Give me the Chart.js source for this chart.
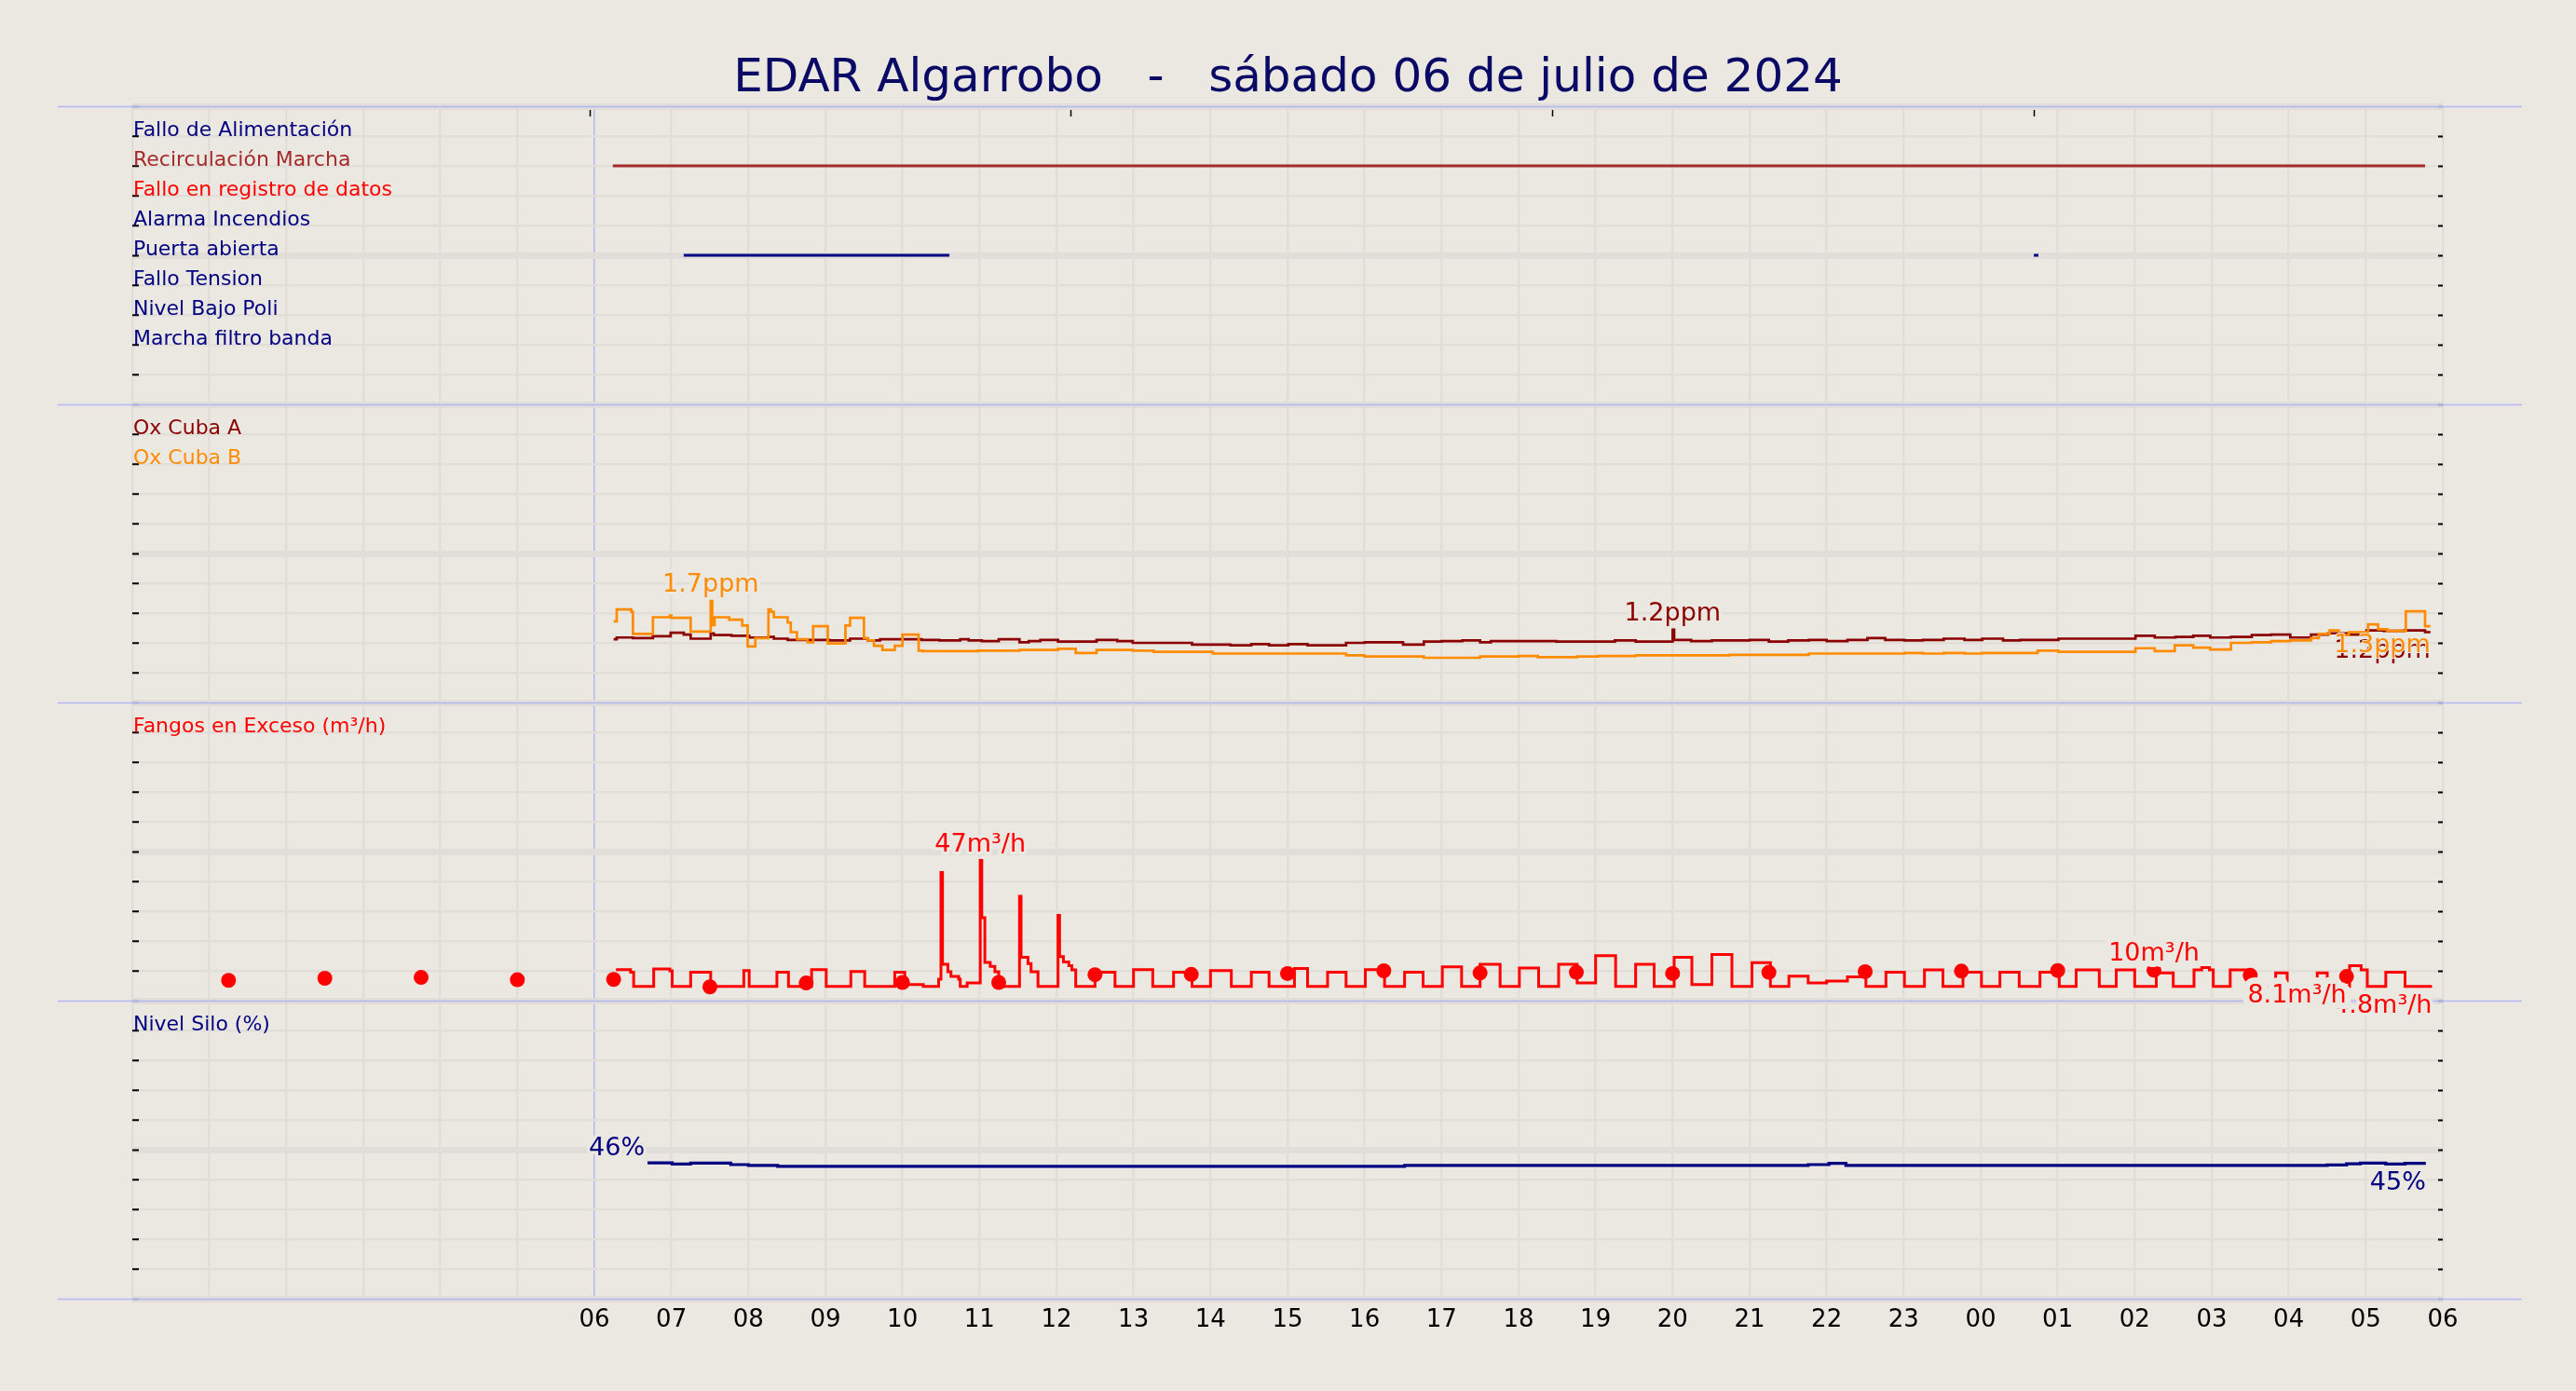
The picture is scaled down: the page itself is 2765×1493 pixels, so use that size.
<!DOCTYPE html>
<html>
<head>
<meta charset="utf-8">
<script src="https://cdn.jsdelivr.net/npm/chart.js@4.4.1/dist/chart.umd.min.js"></script>
<style>
html,body{margin:0;padding:0;background:#ebe7e1;overflow:hidden;}
canvas{display:block;}
</style>
</head>
<body>
<canvas id="chart" width="2765" height="1493"></canvas>
<script>
// ---------------- data ----------------
const chartTitle = 'EDAR Algarrobo   -   sábado 06 de julio de 2024';
const hourLabels = ['06','07','08','09','10','11','12','13','14','15','16','17','18','19','20','21','22','23','00','01','02','03','04','05','06'];
const topAxisMarks = [5.94, 12.19, 18.44, 24.69];

const alarmNames = ['Fallo de Alimentación','Recirculación Marcha','Fallo en registro de datos','Alarma Incendios','Puerta abierta','Fallo Tension','Nivel Bajo Poli','Marcha filtro banda'];
const recirculacionMarcha = [[6.24, 29.77]];
const puertaAbierta = [[7.16, 10.61], [24.69, 24.75]];

const oxNames = ['Ox Cuba A', 'Ox Cuba B'];
const oxCubaA = [[6.25,1.06],[6.29,1.09],[6.50,1.08],[6.76,1.11],[6.99,1.17],[7.16,1.14],[7.25,1.07],[7.51,1.16],[7.55,1.13],[7.78,1.12],[8.01,1.09],[8.26,1.10],[8.33,1.07],[8.51,1.05],[9.05,1.04],[9.32,1.07],[9.55,1.04],[9.71,1.06],[10.25,1.05],[10.48,1.04],[10.75,1.06],[10.86,1.04],[11.03,1.03],[11.25,1.06],[11.52,1.01],[11.64,1.03],[11.79,1.05],[12.02,1.02],[12.52,1.05],[12.79,1.03],[12.99,1.00],[13.26,1.00],[13.76,0.97],[14.26,0.96],[14.53,0.98],[14.76,0.96],[15.01,0.98],[15.26,0.96],[15.76,1.00],[16.00,1.01],[16.50,0.97],[16.77,1.02],[17.00,1.03],[17.27,1.04],[17.50,1.01],[17.64,1.03],[18.49,1.02],[19.25,1.04],[19.52,1.02],[20.00,1.22],[20.02,1.05],[20.24,1.03],[20.51,1.04],[21.00,1.05],[21.25,1.02],[21.50,1.04],[21.77,1.05],[22.00,1.03],[22.27,1.05],[22.53,1.08],[22.76,1.05],[23.01,1.04],[23.25,1.05],[23.52,1.07],[23.79,1.05],[24.02,1.07],[24.29,1.04],[24.51,1.05],[25.01,1.07],[26.01,1.12],[26.26,1.09],[26.53,1.10],[26.76,1.12],[26.98,1.09],[27.25,1.10],[27.52,1.13],[27.77,1.14],[28.02,1.09],[28.29,1.14],[28.51,1.16],[28.78,1.14],[29.01,1.21],[29.23,1.20],[29.50,1.21],[29.77,1.18],[29.84,1.18]];
const oxCubaB = [[6.25,1.36],[6.29,1.56],[6.48,1.52],[6.50,1.15],[6.76,1.43],[6.98,1.46],[7.00,1.42],[7.25,1.19],[7.51,1.70],[7.53,1.30],[7.56,1.43],[7.75,1.39],[7.92,1.29],[7.99,0.94],[8.09,1.08],[8.26,1.56],[8.29,1.52],[8.33,1.43],[8.51,1.34],[8.55,1.18],[8.63,1.06],[8.77,1.01],[8.84,1.28],[9.03,0.99],[9.26,1.29],[9.32,1.42],[9.50,1.08],[9.55,1.04],[9.63,0.95],[9.74,0.88],[9.90,0.95],[10.00,1.14],[10.21,0.87],[10.26,0.86],[10.98,0.87],[11.52,0.88],[12.02,0.90],[12.25,0.83],[12.52,0.88],[12.99,0.87],[13.26,0.85],[13.76,0.85],[14.03,0.82],[14.26,0.82],[15.76,0.79],[16.00,0.77],[16.77,0.75],[17.50,0.77],[18.00,0.78],[18.25,0.76],[18.76,0.77],[19.03,0.78],[19.52,0.79],[20.74,0.80],[21.77,0.82],[23.01,0.83],[23.25,0.82],[23.52,0.83],[23.79,0.82],[24.02,0.83],[24.74,0.87],[25.01,0.85],[26.01,0.91],[26.26,0.86],[26.52,0.96],[26.76,0.92],[26.98,0.89],[27.25,1.00],[27.52,1.01],[27.77,1.03],[28.02,1.04],[28.29,1.08],[28.39,1.15],[28.53,1.21],[28.65,1.13],[28.78,1.18],[29.03,1.31],[29.16,1.23],[29.28,1.20],[29.52,1.53],[29.77,1.28],[29.84,1.28]];

const fangosName = 'Fangos en Exceso (m³/h)';
const fangosExceso = [[6.28,10.4],[6.47,9.5],[6.51,4.8],[6.77,10.6],[6.98,10.0],[7.01,4.8],[7.25,9.5],[7.51,4.8],[7.94,10.1],[8.01,4.8],[8.37,9.5],[8.52,4.8],[8.82,10.4],[9.01,4.8],[9.33,9.8],[9.51,4.8],[9.90,9.5],[10.03,5.4],[10.27,4.8],[10.47,7.2],[10.50,43],[10.52,12.2],[10.59,9.7],[10.63,8.1],[10.73,7.2],[10.75,4.8],[10.84,5.9],[11.01,47],[11.03,27.8],[11.07,12.8],[11.14,11.5],[11.20,9.7],[11.25,4.8],[11.52,35],[11.54,14.5],[11.63,12.4],[11.67,9.7],[11.76,4.8],[12.02,28.6],[12.04,14.8],[12.09,13.0],[12.16,11.7],[12.20,10.3],[12.25,4.8],[12.50,9.5],[12.76,4.8],[13.00,10.4],[13.25,4.8],[13.52,9.5],[13.76,4.8],[14.00,10.1],[14.27,4.8],[14.53,9.5],[14.76,4.8],[15.09,10.8],[15.26,4.8],[15.52,9.5],[15.76,4.8],[16.01,10.4],[16.26,4.8],[16.52,9.5],[16.76,4.8],[17.01,11.3],[17.26,4.8],[17.50,12.2],[17.76,4.8],[18.01,10.9],[18.26,4.8],[18.52,12.2],[18.76,5.9],[19.00,15.1],[19.26,4.8],[19.52,12.2],[19.76,4.8],[20.02,14.5],[20.25,5.4],[20.51,15.5],[20.77,4.8],[21.03,12.7],[21.27,4.8],[21.51,8.2],[21.76,5.9],[22.00,6.6],[22.27,8.0],[22.51,4.8],[22.77,9.5],[23.01,4.8],[23.27,10.3],[23.51,4.8],[23.77,9.5],[24.01,4.8],[24.25,9.5],[24.50,4.8],[24.77,9.5],[25.02,4.8],[25.24,10.3],[25.54,4.8],[25.76,10.3],[26.00,4.8],[26.28,9.3],[26.50,4.8],[26.77,10.3],[26.87,11.1],[26.97,10.3],[27.02,4.8],[27.24,10.3],[27.46,4.8],[27.83,9.3],[27.98,4.8],[28.37,9.3],[28.50,4.8],[28.79,11.7],[28.94,10.3],[29.02,4.8],[29.26,9.5],[29.51,4.8],[29.86,4.8]];
const fangosPuntos = [[1.25,6.8],[2.5,7.5],[3.75,7.8],[5.0,7.0],[6.25,7.1],[7.5,4.6],[8.75,5.9],[10.0,6.1],[11.25,6.1],[12.5,8.7],[13.75,8.8],[15.0,9.1],[16.25,10.0],[17.5,9.3],[18.75,9.5],[20.0,9.1],[21.25,9.5],[22.5,9.7],[23.75,9.9],[25.0,10.1],[26.25,10.2],[27.5,8.5],[28.75,8.1]];

const siloName = 'Nivel Silo (%)';
const nivelSilo = [[6.69,45.6],[7.01,45.2],[7.25,45.5],[7.77,45.0],[8.00,44.7],[8.38,44.4],[16.52,44.7],[21.76,45.0],[22.03,45.4],[22.25,44.7],[28.50,44.9],[28.75,45.3],[28.93,45.5],[29.26,45.2],[29.51,45.4],[29.78,45.4]];

// ---------------- styles ----------------
const FONT = 'DejaVu Sans';
const BG = '#ebe7e1';
const GRID = '#e1ddd9';
const RULE = '#b2b6f2';
const NAVY = '#000080', BROWN = '#a52a2a', RED = '#ff0000', DARKRED = '#8b0000', ORANGE = '#ff8c00';
const TITLE_COLOR = '#0a0a66';
const alarmColors = [NAVY, BROWN, RED, NAVY, NAVY, NAVY, NAVY, NAVY];
const alarmIntervals = [[], recirculacionMarcha, [], [], puertaAbierta, [], [], []];

const pts = a => a.map(([x, y]) => ({x, y}));
function intervalPoints(iv, level) {
  const out = [];
  iv.forEach(([s, e]) => { out.push({x: s, y: level}, {x: e, y: level}, {x: e, y: null}); });
  return out;
}

const datasets = [];
alarmIntervals.forEach((iv, i) => {
  if (iv.length) datasets.push({data: intervalPoints(iv, 9 - i), yAxisID: 'y1', borderColor: alarmColors[i], borderWidth: 3, pointRadius: 0, spanGaps: false, borderCapStyle: 'butt'});
});
datasets.push({data: pts(oxCubaB), yAxisID: 'y2', borderColor: ORANGE, borderWidth: 2.7, stepped: true, pointRadius: 0, order: 0});
datasets.push({data: pts(oxCubaA), yAxisID: 'y2', borderColor: DARKRED, borderWidth: 2.7, stepped: true, pointRadius: 0, order: 1});
datasets.push({data: pts(fangosPuntos), yAxisID: 'y3', showLine: false, pointRadius: 8, pointBackgroundColor: RED, pointBorderWidth: 0, borderColor: RED, order: 0});
datasets.push({data: pts(fangosExceso), yAxisID: 'y3', borderColor: RED, borderWidth: 3, stepped: true, pointRadius: 0, order: 1});
datasets.push({data: pts(nivelSilo), yAxisID: 'y4', borderColor: NAVY, borderWidth: 3.2, stepped: true, pointRadius: 0});

const panelTexts = [
  {axis: 'y1', names: alarmNames, colors: alarmColors},
  {axis: 'y2', names: oxNames, colors: [DARKRED, ORANGE]},
  {axis: 'y3', names: [fangosName], colors: [RED]},
  {axis: 'y4', names: [siloName], colors: [NAVY]},
];
const annotated = [
  {data: oxCubaA, axis: 'y2', unit: 'ppm', color: DARKRED, endHalo: 2},
  {data: oxCubaB, axis: 'y2', unit: 'ppm', color: ORANGE, endHalo: 2},
  {data: fangosExceso, axis: 'y3', unit: 'm³/h', color: RED},
  {data: fangosPuntos, axis: 'y3', unit: 'm³/h', color: RED, halo: 14, endHalo: 14},
  {data: nivelSilo, axis: 'y4', unit: '%', color: NAVY, maxAlign: 'right'},
];

function drawLabel(ctx, text, x, baseline, align, color, halo) {
  ctx.font = '27px "' + FONT + '"';
  const w = ctx.measureText(text).width;
  const left = align === 'center' ? x - w / 2 : (align === 'right' ? x - w : x);
  ctx.textAlign = 'left';
  ctx.textBaseline = 'alphabetic';
  ctx.lineJoin = 'round';
  ctx.strokeStyle = BG;
  ctx.lineWidth = halo || 7;
  ctx.strokeText(text, left, baseline);
  ctx.fillStyle = color;
  ctx.fillText(text, left, baseline);
}

const decoPlugin = {
  id: 'deco',
  beforeDatasetsDraw(chart) {
    const {ctx, chartArea: ca} = chart;
    ctx.save();
    ctx.strokeStyle = RULE;
    ctx.lineWidth = 1.5;
    const ys = [];
    ['y1', 'y2', 'y3', 'y4'].forEach(id => { const s = chart.scales[id]; ys.push(s.top, s.bottom); });
    [...new Set(ys.map(v => Math.round(v)))].forEach(y => {
      ctx.beginPath(); ctx.moveTo(ca.left - 80, y + 0.5); ctx.lineTo(ca.right + 85, y + 0.5); ctx.stroke();
    });
    ctx.font = '22px "' + FONT + '"';
    ctx.textAlign = 'left';
    ctx.textBaseline = 'alphabetic';
    panelTexts.forEach(p => {
      const s = chart.scales[p.axis];
      p.names.forEach((n, i) => {
        const v = s.min + (s.max - s.min) * (9 - i) / 10;
        ctx.fillStyle = p.colors[i];
        ctx.fillText(n, ca.left + 1, s.getPixelForValue(v));
      });
    });
    ctx.restore();
  },
  afterDatasetsDraw(chart) {
    const {ctx} = chart;
    const xs = chart.scales.x;
    ctx.save();
    annotated.forEach(a => {
      const ys = chart.scales[a.axis];
      let mi = 0;
      a.data.forEach((p, i) => { if (p[1] > a.data[mi][1]) mi = i; });
      const mx = a.data[mi];
      const px = xs.getPixelForValue(mx[0]), py = ys.getPixelForValue(mx[1]);
      if (a.maxAlign === 'right') drawLabel(ctx, mx[1].toPrecision(2) + a.unit, px - 3, py - 8, 'right', a.color, a.halo);
      else drawLabel(ctx, mx[1].toPrecision(2) + a.unit, px, py - 10, 'center', a.color, a.halo);
    });
    annotated.forEach(a => {
      const ys = chart.scales[a.axis];
      const last = a.data[a.data.length - 1];
      drawLabel(ctx, last[1].toPrecision(2) + a.unit, xs.getPixelForValue(last[0]), ys.getPixelForValue(last[1]) + 28, 'right', a.color, a.endHalo);
    });
    ctx.restore();
  }
};

const leftY = (min, max, step, weight) => ({
  type: 'linear', position: 'left', stack: 'L', stackWeight: 1, weight, min, max,
  ticks: {display: false, stepSize: step},
  grid: {color: GRID, lineWidth: c => (c.index % 5 === 0 ? 7 : 2.5), tickLength: -7, tickWidth: 2,
         tickColor: c => (c.index % 10 === 0 ? '#9a9ab8' : '#000000')},
  border: {display: false},
  afterFit: s => { s.width = 142; }
});
const rightY = (min, max, step, weight) => ({
  type: 'linear', position: 'right', stack: 'R', stackWeight: 1, weight, min, max,
  ticks: {display: false, stepSize: step},
  grid: {drawOnChartArea: false, tickLength: -5, tickWidth: 2,
         tickColor: c => (c.index % 10 === 0 ? '#9a9ab8' : '#000000')},
  border: {display: false},
  afterFit: s => { s.width = 143; }
});

Chart.defaults.font.family = FONT;

new Chart(document.getElementById('chart'), {
  type: 'line',
  data: {datasets},
  plugins: [decoPlugin],
  options: {
    responsive: false,
    animation: false,
    devicePixelRatio: 1,
    layout: {padding: 0},
    elements: {line: {tension: 0, borderJoinStyle: 'miter'}, point: {radius: 0}},
    plugins: {
      legend: {display: false},
      tooltip: {enabled: false},
      title: {display: true, text: chartTitle, color: TITLE_COLOR,
              font: {family: FONT, size: 50, weight: 'normal', lineHeight: 1.14}, padding: {top: 57, bottom: 0}}
    },
    scales: {
      x: {type: 'linear', position: 'bottom', min: 0, max: 30,
          ticks: {stepSize: 1, autoSkip: false, maxRotation: 0, color: '#000000', padding: 8,
                  font: {family: FONT, size: 26},
                  callback: v => (v >= 6 ? hourLabels[v - 6] : '')},
          grid: {color: c => (c.tick && c.tick.value === 6 ? RULE : GRID),
                 lineWidth: c => (c.tick && c.tick.value === 6 ? 1.5 : 2.5), drawTicks: false},
          border: {display: false},
          afterFit: s => { s.height = 99; }},
      xt: {type: 'linear', position: 'top', min: 0, max: 30,
           afterBuildTicks: s => { s.ticks = topAxisMarks.map(v => ({value: v})); },
           ticks: {display: false},
           grid: {drawOnChartArea: false, tickLength: -11, tickWidth: 1.5, tickColor: '#000000'},
           border: {display: false},
           afterFit: s => { s.height = 0; }},
      y1: leftY(0, 10, 1, 4),
      y2: leftY(0, 5, 0.5, 3),
      y3: leftY(0, 100, 10, 2),
      y4: leftY(0, 100, 10, 1),
      r1: rightY(0, 10, 1, 1),
      r2: rightY(0, 5, 0.5, 2),
      r3: rightY(0, 100, 10, 3),
      r4: rightY(0, 100, 10, 4)
    }
  }
});
</script>
</body>
</html>
